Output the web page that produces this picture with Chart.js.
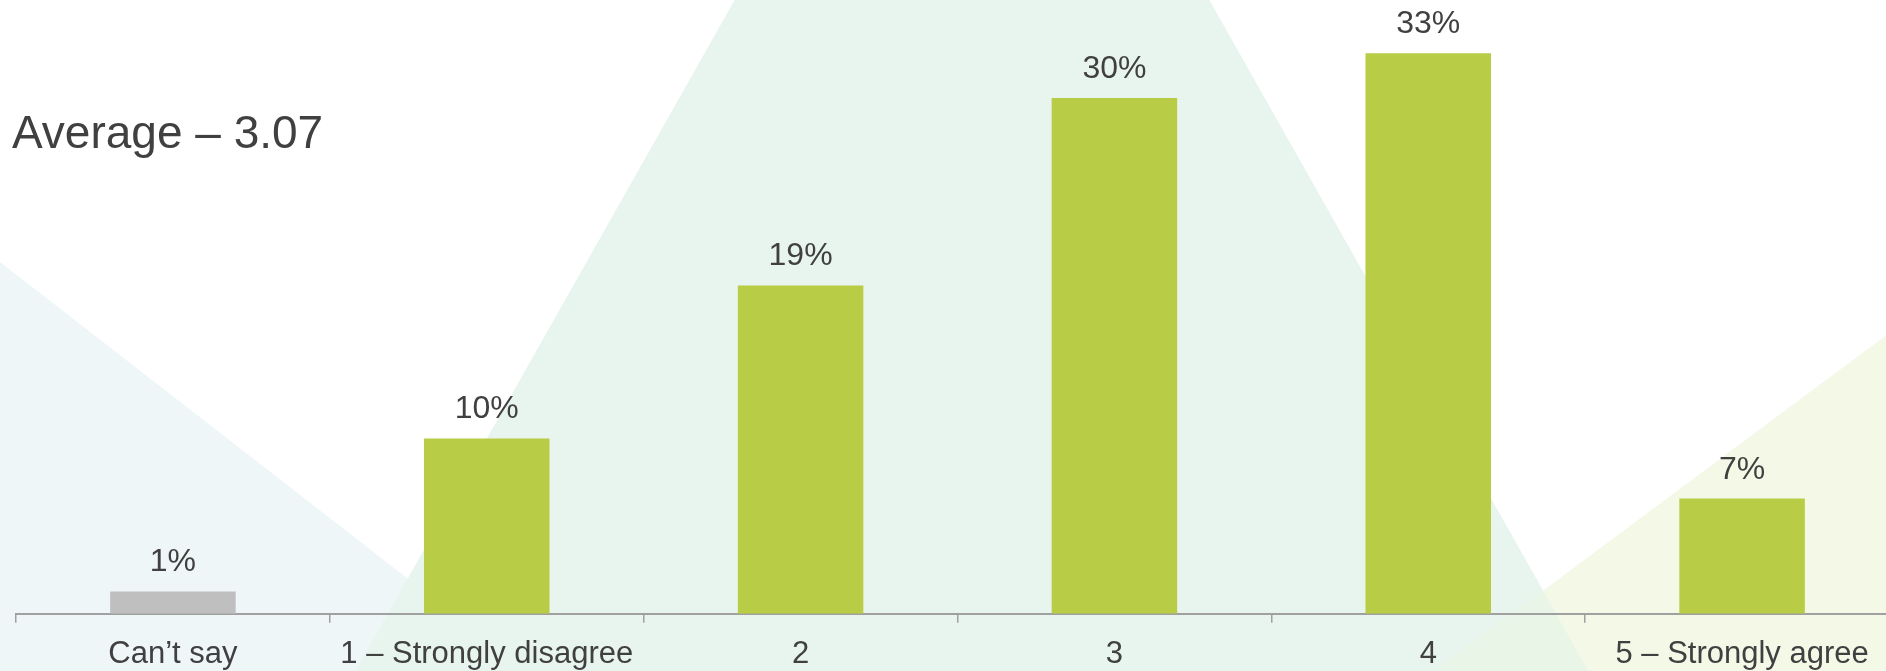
<!DOCTYPE html>
<html>
<head>
<meta charset="utf-8">
<script src="https://cdn.jsdelivr.net/npm/chart.js@4/dist/chart.umd.min.js"></script>
<style>
  html, body { margin: 0; padding: 0; background: #fff; overflow: hidden; }
  #wrap { width: 1900px; height: 686px; }
</style>
</head>
<body>
<div id="wrap"><canvas id="chart" width="1900" height="686"></canvas></div>
<script>
const categories = ['Can’t say', '1 – Strongly disagree', '2', '3', '4', '5 – Strongly agree'];
const shares = [1.3, 10.2, 19.1, 30.0, 32.6, 6.7];
const averageText = 'Average – 3.07';

const FONT = '"Liberation Sans", Arial, Helvetica, sans-serif';
const TEXT = '#404040';

// decorative background shapes
const fondo = {
  id: 'fondo',
  beforeDraw(chart) {
    const c = chart.ctx;
    c.save();
    c.fillStyle = '#fff';
    c.fillRect(0, 0, chart.width, chart.height);

    c.fillStyle = '#EEF6F8';
    c.beginPath();
    c.moveTo(0, 262); c.lineTo(546, 686); c.lineTo(0, 686);
    c.closePath(); c.fill();

    c.globalCompositeOperation = 'darken';
    c.fillStyle = '#E8F5EF';
    c.beginPath();
    c.moveTo(972, -420); c.lineTo(1597, 686); c.lineTo(347, 686);
    c.closePath(); c.fill();

    c.fillStyle = '#F4F8E7';
    c.beginPath();
    c.moveTo(1900, 325); c.lineTo(1900, 686); c.lineTo(1415, 686);
    c.closePath(); c.fill();
    c.restore();
  },
  afterDraw(chart) {
    const c = chart.ctx;
    c.save();
    c.fillStyle = TEXT;
    c.font = '46px ' + FONT;
    c.textAlign = 'left';
    c.textBaseline = 'alphabetic';
    c.fillText(averageText, 12, 148);
    c.restore();
  }
};

const etiquetas = {
  id: 'etiquetas',
  afterDatasetsDraw(chart) {
    const c = chart.ctx;
    const meta = chart.getDatasetMeta(0);
    c.save();
    c.fillStyle = TEXT;
    c.font = '32px ' + FONT;
    c.textAlign = 'center';
    c.textBaseline = 'alphabetic';
    meta.data.forEach((bar, i) => {
      c.fillText(Math.round(shares[i]) + '%', bar.x, bar.y - 20);
    });
    c.restore();
  }
};

new Chart(document.getElementById('chart'), {
  type: 'bar',
  data: {
    labels: categories,
    datasets: [{
      data: shares,
      backgroundColor: categories.map((_, i) => i === 0 ? '#BFBFBF' : '#B8CC45'),
      borderWidth: 0,
      barPercentage: 0.4,
      categoryPercentage: 1.0
    }]
  },
  options: {
    responsive: false,
    animation: false,
    layout: { padding: { left: 16, right: 1, top: 0, bottom: 0 } },
    plugins: {
      legend: { display: false },
      tooltip: { enabled: false }
    },
    scales: {
      x: {
        grid: {
          drawOnChartArea: false,
          drawTicks: true,
          tickLength: 9,
          color: '#A0A0A0',
          lineWidth: 1.5
        },
        border: { color: '#A0A0A0', width: 2 },
        ticks: {
          color: TEXT,
          font: { family: FONT, size: 31 },
          padding: 13,
          maxRotation: 0,
          autoSkip: false
        }
      },
      y: {
        display: false,
        min: 0,
        max: 35.7
      }
    }
  },
  plugins: [fondo, etiquetas]
});
</script>
</body>
</html>
